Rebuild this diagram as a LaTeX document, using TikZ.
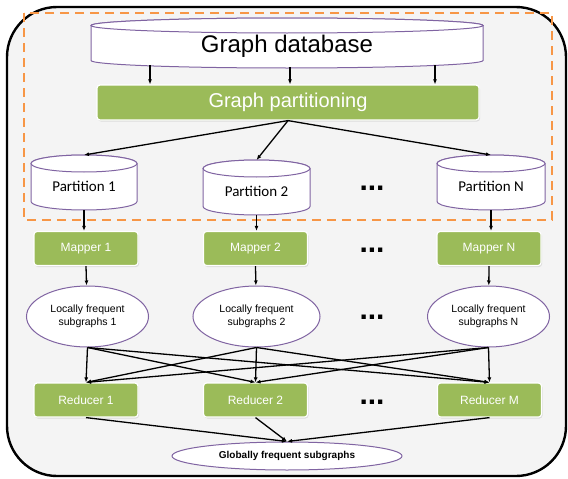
\documentclass[tikz,border=0pt]{standalone}
\usepackage{fontspec}
\setmainfont{Liberation Sans}
\newfontfamily\calibri{Carlito}
\usetikzlibrary{arrows.meta,shapes.geometric,shadows}
\definecolor{greenA}{HTML}{9BBB59}
\definecolor{purpleA}{HTML}{8064A2}
\definecolor{orangeA}{HTML}{F79646}
\definecolor{paneGray}{HTML}{F4F4F4}
\newcommand{\dbcyl}[8]{%
  % name, x centre, top, bottom, half width, rim radius, font, label
  \filldraw[cylline] ({#2-#5},{#3+#6}) -- ({#2-#5},{#4-#6})
    arc[start angle=180,end angle=0,x radius=#5,y radius=#6]
    -- ({#2+#5},{#3+#6})
    arc[start angle=0,end angle=-180,x radius=#5,y radius=#6] -- cycle;
  \draw[cylline] (#2,{#3+#6}) ellipse[x radius=#5,y radius=#6];
  \coordinate (#1-top) at (#2,#3);
  \coordinate (#1-bot) at (#2,#4);
  \node[font=#7] (#1) at (#2,{(#3+#4)/2+#6/2}) {#8};
}

\begin{document}
\begin{tikzpicture}[x=1pt,y=-1pt,
  arr/.style={-{Latex[length=5pt,width=4pt]}, line width=1.3pt},
  cylline/.style={draw=purpleA, line width=1pt, fill=white},
  greenbox/.style={rectangle, rounded corners=3pt, fill=greenA, draw=white,
    line width=1.2pt, text=white, minimum width=104pt, minimum height=34pt,
    inner sep=0pt, font=\fontsize{12}{14}\selectfont,
    drop shadow={opacity=0.2, shadow xshift=1pt, shadow yshift=-1.5pt}},
  lfs/.style={ellipse, draw=purpleA, line width=1pt, fill=white,
    minimum width=122pt, minimum height=61pt, inner sep=0pt, align=center,
    font=\fontsize{10.5}{12.5}\selectfont},
  dots/.style={font=\bfseries\fontsize{30}{30}\selectfont, inner sep=0pt}]
  \useasboundingbox (0,0) rectangle (568,479);

  \filldraw[fill=paneGray, draw=black, line width=2.4pt, rounded corners=50pt]
    (7,7) rectangle (566,476);
  \draw[orangeA, line width=2.4pt, dash pattern=on 9pt off 6pt]
    (24,13) rectangle (552,220);

  \dbcyl{gdb}{287}{18}{68}{196}{7.5}{\fontsize{24}{28}\selectfont}{Graph database}
  \node[greenbox, minimum width=382pt, minimum height=35pt,
    font=\fontsize{20}{24}\selectfont] (gp) at (288,102.5) {Graph partitioning};

  \dbcyl{p1}{84}{155}{210}{53}{8.5}{\calibri\fontsize{15}{18}\selectfont}{Partition 1}
  \dbcyl{p2}{256.5}{160}{215}{53.5}{8.5}{\calibri\fontsize{15}{18}\selectfont}{Partition 2}
  \dbcyl{pN}{491}{155}{210}{54}{8.5}{\calibri\fontsize{15}{18}\selectfont}{Partition N}

  \node[greenbox] (m1) at (86,248.5) {Mapper 1};
  \node[greenbox] (m2) at (255.5,248.5) {Mapper 2};
  \node[greenbox] (mN) at (489,248.5) {Mapper N};

  \node[lfs] (l1) at (87.5,316.5) {Locally frequent\\subgraphs 1};
  \node[lfs, minimum width=127pt] (l2) at (256.5,316.5) {Locally frequent\\subgraphs 2};
  \node[lfs] (lN) at (488.5,316.5) {Locally frequent\\subgraphs N};

  \node[greenbox] (r1) at (86,400) {Reducer 1};
  \node[greenbox] (r2) at (255.5,400) {Reducer 2};
  \node[greenbox] (rM) at (489.5,400) {Reducer M};

  \node[lfs, minimum width=230pt, minimum height=28pt,
    font=\bfseries\fontsize{10}{12}\selectfont] (glob) at (287,456) {Globally frequent subgraphs};

  \foreach \y/\n in {188/1,250/2,317/3,402/4}
    \node[dots] (dots\n) at (372,\y) {...};

  \foreach \dx/\up in {-138/19,2/17,147/19}
    \draw[arr] ([xshift=\dx pt,yshift=\up pt]gp.north) -- ([xshift=\dx pt]gp.north);
  \foreach \p in {p1,p2,pN}
    \draw[arr] (gp.south) -- (\p-top);
  \foreach \p/\m in {p1/m1,p2/m2,pN/mN}
    \draw[arr] (\p-bot) -- (\p-bot |- \m.north);
  \foreach \m/\l in {m1/l1,m2/l2,mN/lN}
    \draw[arr] (\m.south) -- (\l);
  \foreach \l in {l1,l2,lN}
    \foreach \r in {r1,r2,rM}
      \draw[arr] (\l.south) -- (\r.north);
  \foreach \r in {r1,r2,rM}
    \draw[arr] (\r.south) -- (glob.north);
\end{tikzpicture}
\end{document}
